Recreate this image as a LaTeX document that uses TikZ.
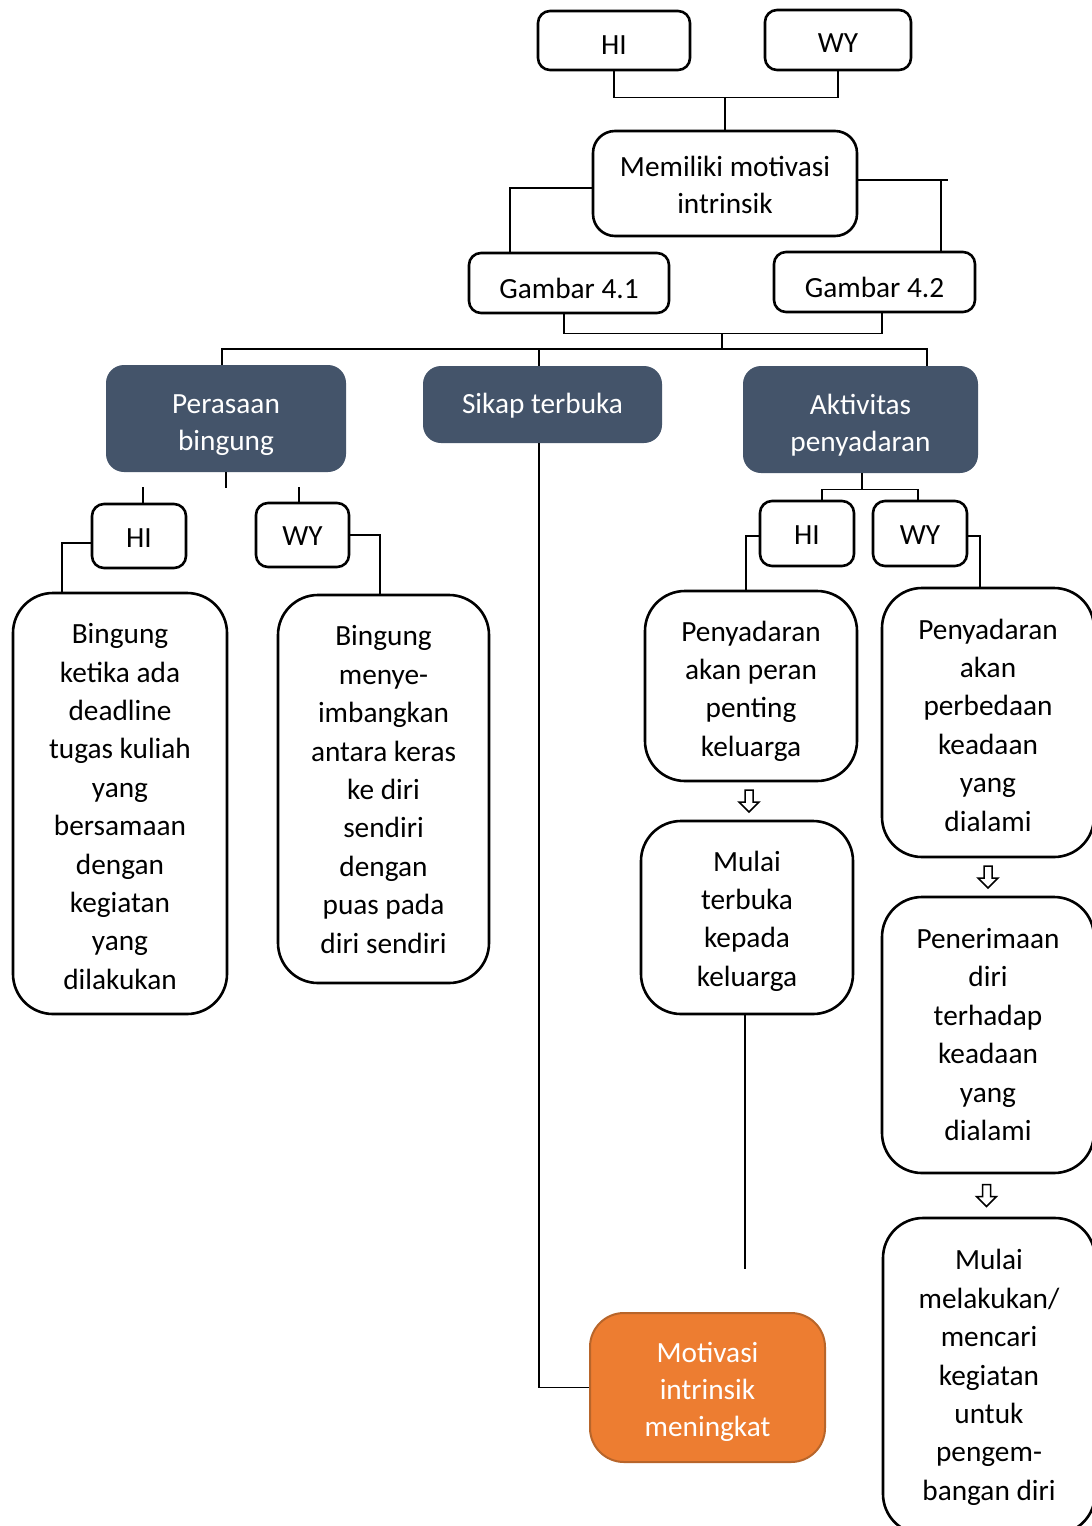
\documentclass[tikz,border=0pt]{standalone}
\usepackage{fontspec}
\setmainfont{Carlito}
\usetikzlibrary{calc}
\definecolor{darkbox}{HTML}{44546A}
\definecolor{orangebox}{HTML}{ED7D31}
\definecolor{orangeedge}{HTML}{B8652A}
\tikzset{
  txt/.style={font=\fontsize{29.3pt}{38.4pt}\selectfont, align=center, inner sep=0pt},
  tight/.style={font=\fontsize{29.3pt}{37pt}\selectfont},
  wtxt/.style={txt, text=white},
  wbox/.style={draw=black, line width=2.6pt, fill=white, rounded corners=#1, inner sep=0pt},
  wbox/.default=12pt,
  dbox/.style={fill=darkbox, rounded corners=18pt, inner sep=0pt},
  obox/.style={fill=orangebox, draw=orangeedge, line width=2pt, rounded corners=34pt, inner sep=0pt},
  conn/.style={line width=1.4pt},
  harrow/.pic={\draw[line width=1.5pt, line join=miter] (-4,-11) -- (4,-11) -- (4,1) -- (10,1) -- (0,11) -- (-10,1) -- (-4,1) -- cycle;}
}
\begin{document}
\begin{tikzpicture}[x=1pt,y=-1pt]
\clip (0,0) rectangle (1092,1526);
\fill[white] (0,0) rectangle (1092,1526);

% top
\node[wbox, minimum width=152pt, minimum height=59pt] (hi1) at (614,40.5) {};
\node[txt] (hi1t) at ([yshift=-5pt]hi1.center) {HI};
\node[wbox, minimum width=146pt, minimum height=60pt] (wy1) at (838,40) {};
\node[txt] (wy1t) at ([yshift=-3.5pt]wy1.center) {WY};
\node[wbox=22pt, minimum width=264pt, minimum height=105pt] (mm) at (725,183.5) {};
\node[txt, tight] (mmt) at ([yshift=-1pt]mm.center) {Memiliki motivasi\\intrinsik};
\node[wbox, minimum width=200pt, minimum height=60pt] (g1) at (569,283) {};
\node[txt] (g1t) at ([yshift=-5pt]g1.center) {Gambar 4.1};
\node[wbox, minimum width=201pt, minimum height=60pt] (g2) at (874.5,282) {};
\node[txt] (g2t) at ([yshift=-5pt]g2.center) {Gambar 4.2};

% dark
\node[dbox, minimum width=240pt, minimum height=107pt] (pb) at (226,418.5) {};
\node[wtxt, tight] (pbt) at ([yshift=-6.5pt]pb.center) {Perasaan\\bingung};
\node[dbox, minimum width=239pt, minimum height=77pt] (sk) at (542.5,404.5) {};
\node[wtxt] (skt) at ([yshift=-1.5pt]sk.center) {Sikap terbuka};
\node[dbox, minimum width=235pt, minimum height=107pt] (ak) at (860.5,419.5) {};
\node[wtxt, tight] (akt) at ([yshift=-5.5pt]ak.center) {Aktivitas\\penyadaran};

% left branch
\node[wbox, minimum width=94pt, minimum height=64pt] (hi2) at (139,536) {};
\node[txt] (hi2t) at ([yshift=-2pt]hi2.center) {HI};
\node[wbox, minimum width=93pt, minimum height=64pt] (wy2) at (302.5,535) {};
\node[txt] (wy2t) at ([yshift=-1pt]wy2.center) {WY};
\node[wbox=40pt, minimum width=214pt, minimum height=421pt] (b1) at (120,803.5) {};
\node[txt] (b1t) at ([yshift=-3pt]b1.center)
  {Bingung\\ketika ada\\deadline\\tugas kuliah\\yang\\bersamaan\\dengan\\kegiatan\\yang\\dilakukan};
\node[wbox=40pt, minimum width=211pt, minimum height=388pt] (b2) at (383.5,789) {};
\node[txt] (b2t) at ([yshift=-0.5pt]b2.center)
  {Bingung\\menye-\\imbangkan\\antara keras\\ke diri\\sendiri\\dengan\\puas pada\\diri sendiri};

% right branch
\node[wbox, minimum width=94pt, minimum height=65pt] (hi3) at (807,533.5) {};
\node[txt] (hi3t) at ([yshift=-2pt]hi3.center) {HI};
\node[wbox, minimum width=94pt, minimum height=65pt] (wy3) at (920,533.5) {};
\node[txt] (wy3t) at ([yshift=-2pt]wy3.center) {WY};
\node[wbox=40pt, minimum width=212pt, minimum height=190pt] (p1) at (751,686) {};
\node[txt] (p1t) at ([yshift=-5pt]p1.center) {Penyadaran\\akan peran\\penting\\keluarga};
\node[wbox=40pt, minimum width=212pt, minimum height=193pt] (m1) at (747,917.5) {};
\node[txt] (m1t) at ([yshift=-3.5pt]m1.center) {Mulai\\terbuka\\kepada\\keluarga};
\node[wbox=40pt, minimum width=212pt, minimum height=269pt] (r1) at (988,722.5) {};
\node[txt] (r1t) at ([yshift=-2.5pt]r1.center) {Penyadaran\\akan\\perbedaan\\keadaan\\yang\\dialami};
\node[wbox=40pt, minimum width=212pt, minimum height=276pt] (r2) at (988,1035) {};
\node[txt] (r2t) at ([yshift=0.5pt]r2.center) {Penerimaan\\diri\\terhadap\\keadaan\\yang\\dialami};
\node[wbox=40pt, minimum width=212pt, minimum height=316pt] (r3) at (989,1376) {};
\node[txt] (r3t) at ([yshift=-1.5pt]r3.center)
  {Mulai\\melakukan/\\mencari\\kegiatan\\untuk\\pengem-\\bangan diri};

% result
\node[obox, minimum width=235pt, minimum height=149pt] (mot) at (707.5,1387.5) {};
\node[wtxt, tight] (mott) at ([yshift=-4pt]mot.center) {Motivasi\\intrinsik\\meningkat};

% connectors top
\draw[conn] (hi1.south) -- ++(0,26) coordinate (tj) -| (wy1.south);
\draw[conn] (mm.north |- tj) -- (mm.north);
\coordinate (g1n) at ([xshift=-59pt]g1.north);
\draw[conn] ([yshift=-4.5pt]mm.west) -| (g1n);
\coordinate (g2n) at ([xshift=66.5pt]g2.north);
\coordinate (mme) at ([yshift=3.5pt]mm.east);
\draw[line width=2.4pt] (mme) -- ++(90,0);
\draw[conn] (g2n) -- (g2n |- mme);
\coordinate (g1b) at ([xshift=-5pt]g1.south);
\coordinate (g2b) at ([xshift=7.5pt]g2.south);
\draw[conn] (g1b) -- ++(0,19) coordinate (gj) -| (g2b);
\coordinate (bus) at (722,349);
\draw[conn] (bus |- gj) -- (bus);

% bus
\coordinate (pbn) at ([xshift=-4pt]pb.north);
\coordinate (skn) at ([xshift=-3.5pt]sk.north);
\coordinate (sks) at ([xshift=-3.5pt]sk.south);
\coordinate (akn) at ([xshift=66.5pt]ak.north);
\draw[conn] (pbn) -- (pbn |- bus) -- (akn |- bus) -- (akn);
\draw[conn] (skn |- bus) -- (skn);
\draw[conn] (sks) |- (mot.west);

% left branch
\draw[conn] (pb.south) -- ++(0,16);
\draw[conn] ([xshift=4pt]hi2.north) -- ++(0,-16);
\draw[conn] ([xshift=-3.5pt]wy2.north) -- ++(0,-15);
\coordinate (b1n) at ([xshift=-58pt]b1.north);
\draw[conn] ([yshift=-7pt]hi2.west) -| (b1n);
\coordinate (b2n) at ([xshift=-3.5pt]b2.north);
\draw[conn] (wy2.east) -| (b2n);

% right branch
\draw[conn] ([xshift=1.5pt]ak.south) -- ++(0,16) coordinate (akj);
\coordinate (hi3n) at ([xshift=15pt]hi3.north);
\coordinate (wy3n) at ([xshift=-2pt]wy3.north);
\draw[conn] (hi3n) |- (akj) -| (wy3n);
\coordinate (p1n) at ([xshift=-5pt]p1.north);
\draw[conn] ([yshift=-2.5pt]hi3.west) -| (p1n);
\coordinate (r1n) at ([xshift=-8pt]r1.north);
\draw[conn] ([yshift=-2.5pt]wy3.east) -| (r1n);
\draw[conn] ([xshift=-2pt]m1.south) -- ++(0,254);

% hollow arrows
\pic at ($(p1.south)!0.5!(m1.north)$) {harrow};
\pic at ($(r1.south)!0.5!(r2.north)$) {harrow};
\pic at ([xshift=-2pt]$(r2.south)!0.5!(r3.north)$) {harrow};
\end{tikzpicture}
\end{document}
